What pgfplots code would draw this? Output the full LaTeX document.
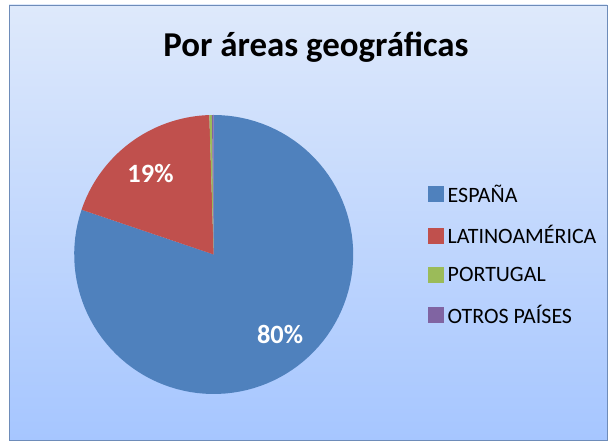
\documentclass[border=0pt]{standalone}
\usepackage{fontspec}
\setmainfont{Carlito}
\usepackage{pgfplots}
\pgfplotsset{compat=1.18}
\usepackage{pgfplotstable}

\definecolor{esp}{HTML}{4F81BD}
\definecolor{lat}{HTML}{C0504D}
\definecolor{por}{HTML}{9BBB59}
\definecolor{otr}{HTML}{8064A2}
\definecolor{bgtop}{RGB}{222,233,251}
\definecolor{bgbot}{RGB}{166,198,255}
\definecolor{frame}{RGB}{110,140,185}

% porcentajes por area
\pgfplotstableread{
value
80.2
19.3
0.3
0.2
}\datos

\pgfplotstablegetelem{0}{value}\of\datos \let\vA\pgfplotsretval
\pgfplotstablegetelem{1}{value}\of\datos \let\vB\pgfplotsretval
\pgfplotstablegetelem{2}{value}\of\datos \let\vC\pgfplotsretval
\pgfplotstablegetelem{3}{value}\of\datos \let\vD\pgfplotsretval

% angulos, desde las 12 en sentido horario
\pgfmathsetmacro\aA{90-3.6*\vA}
\pgfmathsetmacro\aB{\aA-3.6*\vB}
\pgfmathsetmacro\aC{\aB-3.6*\vC}
\pgfmathsetmacro\aD{\aC-3.6*\vD}

\def\cx{213.7}
\def\cy{188.5}
\def\rr{139.5}

\newcommand\slice[3]{%
  \addplot[fill=#3, draw=none, domain=#1:#2, samples=100, variable=\t]
    ({\cx+\rr*cos(t)}, {\cy+\rr*sin(t)}) -- (axis cs:\cx,\cy) -- cycle;
}

\begin{document}
\begin{tikzpicture}
\begin{axis}[
  at={(9bp,3bp)}, anchor=south west,
  scale only axis, width=598bp, height=435bp,
  xmin=9, xmax=607, ymin=3, ymax=438,
  axis lines=none, clip=false,
  axis background/.style={top color=bgtop, bottom color=bgbot, draw=frame, line width=0.8bp},
  legend cell align=left,
  legend image code/.code={\fill[#1, draw=none] (0bp,-8bp) rectangle (16bp,8bp);},
  legend style={at={(axis cs:428,262)}, anchor=north west, draw=none, fill=none,
    row sep=15bp, inner sep=0pt,
    nodes={inner sep=3.5bp, scale=1, font=\fontsize{22}{24}\selectfont}},
]
\slice{\aA}{90}{esp}
\slice{\aB}{\aA}{lat}
\slice{\aC}{\aB}{por}
\slice{\aD}{\aC}{otr}
\legend{ESPAÑA,LATINOAMÉRICA,PORTUGAL,OTROS PAÍSES}

\node[font=\bfseries\fontsize{35}{38}\selectfont] at (axis cs:316,396) {Por áreas geográficas};
\node[text=white, font=\bfseries\fontsize{26.5}{29}\selectfont] at (axis cs:280,109) {80\%};
\node[text=white, font=\bfseries\fontsize{26.5}{29}\selectfont] at (axis cs:150.5,269) {19\%};
\end{axis}
\path (0bp,0bp) rectangle (610bp,443bp);
\end{tikzpicture}
\end{document}
